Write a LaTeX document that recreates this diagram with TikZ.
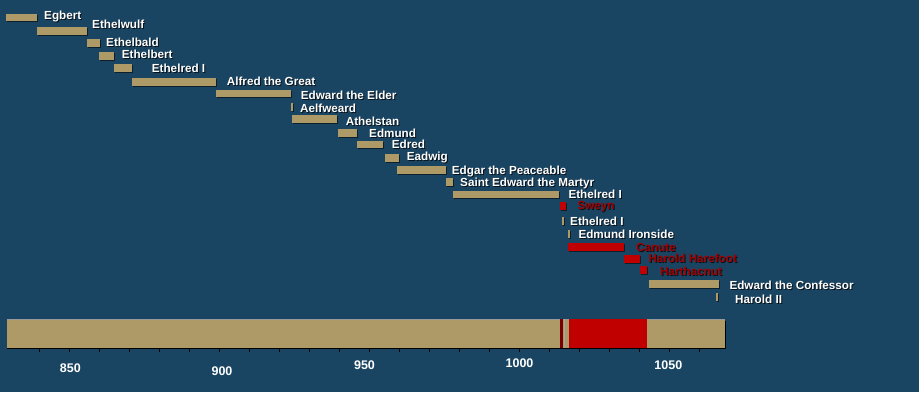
\documentclass[tikz,border=0pt]{standalone}
\usepackage{fontspec}
\setmainfont{Liberation Sans}

\definecolor{fondo}{RGB}{26,69,98}
\definecolor{oro}{RGB}{173,154,102}
\definecolor{rojo}{RGB}{192,0,0}
\definecolor{rojoosc}{RGB}{120,0,0}
\definecolor{rojotxt}{RGB}{160,0,0}

\tikzset{
  rey/.style={anchor=base west, inner sep=0pt, text=white,
    font=\fontsize{11.7}{13}\selectfont\bfseries},
  reyrojo/.style={rey, text=rojotxt},
  sombra/.style={rey, text=black, opacity=0.75},
  eje/.style={anchor=base, inner sep=0pt, text=white,
    font=\fontsize{12.5}{14}\selectfont\bfseries},
  barra/.style={fill=oro},
  barraroja/.style={fill=rojo},
  sombrabarra/.style={fill=black, opacity=0.55, xshift=1pt, yshift=-1pt},
}

\begin{document}
\begin{tikzpicture}[x=1pt,y=-1pt]

\fill[fondo] (0,0) rectangle (919,392);
\useasboundingbox (0,0) rectangle (919,392);

% escala en años: 850 -> 69.3, 3 px por año
\begin{scope}[xshift=-2480.7pt, x=3pt]

\foreach \a/\b/\f in {829/839.1/17.5, 839.1/856/31, 856/860.2/43, 860/865/56,
    865/871/68, 871/899/82, 899/924/93.5, 923.8/924.5/107, 924.1/939.1/119,
    939.5/946/133, 946/954.7/144.5, 955.2/959.9/158, 959.3/975.6/170,
    975.6/978/182, 978/1013.3/194.7, 1014.1/1014.9/221, 1016.1/1016.9/234,
    1043.2/1066.7/284, 1065.6/1066.3/297}{
  \fill[sombrabarra] (\a,\f-3.7) rectangle (\b,\f+3.7);
  \fill[barra] (\a,\f-3.7) rectangle (\b,\f+3.7);
}

\foreach \a/\b/\f in {1013.6/1015.6/206, 1016.3/1034.9/247,
    1035/1040.2/259, 1040.2/1042.5/270}{
  \fill[sombrabarra] (\a,\f-3.7) rectangle (\b,\f+3.7);
  \fill[barraroja] (\a,\f-3.7) rectangle (\b,\f+3.7);
}

% barra inferior
\fill[black] (829.2,320.5) rectangle (1068.9,348.8);
\fill[oro] (829.2,319.3) rectangle (1068.6,347.5);
\draw[gray!80, line width=0.6pt] (829.2,319.6) -- (1068.6,319.6);
\fill[rojoosc] (1013.4,319.3) rectangle (1014.5,347.5);  % Sweyn
\draw[gray!70, line width=0.8pt] (1014.9,319.3) -- (1014.9,347.5);
\fill[rojo] (1016.6,319.3) rectangle (1042.5,347.5);     % Canute ... Harthacnut

\foreach \t in {840,850,...,1060}
  \draw[black, line width=0.7pt] (\t,347.5) -- (\t,351.5);

\end{scope}

% nombres
\foreach \lx/\lb/\t/\nom in {44/19.5/Egbert/egbert, 92/28/Ethelwulf/ethelwulf,
    106/46/Ethelbald/ethelbald, 121.7/58/Ethelbert/ethelbert,
    151.7/72/Ethelred I/ethelredA, 226.7/85/Alfred the Great/alfred,
    300.7/99.5/Edward the Elder/edwardE, 300/112/Aelfweard/aelfweard,
    345.7/125/Athelstan/athelstan, 369/137.5/Edmund/edmund,
    391.7/148.5/Edred/edred, 406.7/160.5/Eadwig/eadwig,
    451.7/174/Edgar the Peaceable/edgar, 460/186/Saint Edward the Martyr/edwardM,
    568.3/198/Ethelred I/ethelredB, 570/225/Ethelred I/ethelredC,
    578.3/238/Edmund Ironside/ironside, 729.3/289/Edward the Confessor/confessor,
    735/303/Harold II/haroldII}{
  \node[sombra] at (\lx+1,\lb+1) {\t};
  \node[rey] (\nom) at (\lx,\lb) {\t};
}

\foreach \lx/\lb/\t/\nom in {577.3/209/Sweyn/sweyn, 636/251/Canute/canute,
    648.3/262/Harold Harefoot/harefoot, 660/275/Harthacnut/harthacnut}{
  \node[sombra] at (\lx+1,\lb+1) {\t};
  \node[reyrojo] (\nom) at (\lx,\lb) {\t};
}

% eje
\node[eje] (a850) at (70.3,372.7) {850};
\node[eje] (a900) at (222,375) {900};
\node[eje] (a950) at (364.5,369.3) {950};
\node[eje] (a1000) at (519.5,367.3) {1000};
\node[eje] (a1050) at (668.3,369) {1050};

\end{tikzpicture}
\end{document}
